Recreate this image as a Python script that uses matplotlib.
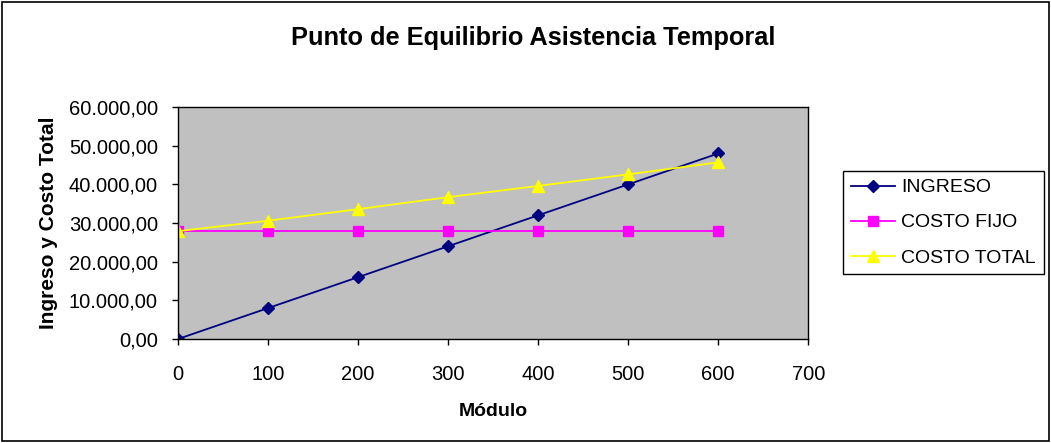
import matplotlib
matplotlib.use("Agg")
import matplotlib.pyplot as plt
from matplotlib.patches import Rectangle
from matplotlib.ticker import FuncFormatter

plt.rcParams["font.family"] = ["Liberation Sans", "DejaVu Sans"]

modulos = [0, 100, 200, 300, 400, 500, 600]
ingreso = [0, 8000, 16000, 24000, 32000, 40000, 48000]
costo_fijo = [28000, 28000, 28000, 28000, 28000, 28000, 28000]
costo_total = [27900, 30600, 33600, 36700, 39600, 42600, 45700]


def fmt_es(v, _pos=None):
    # 12345.6 -> "12.345,60"
    s = f"{v:,.2f}"
    return s.replace(",", "X").replace(".", ",").replace("X", ".")


fig = plt.figure(figsize=(10.51, 4.43), dpi=100)
ax = fig.add_axes([0.1694, 0.2348, 0.5996, 0.5234])
ax.set_facecolor("#C0C0C0")

ax.plot(modulos, ingreso, color="#000080", lw=1.3, marker="D", ms=6,
        label="INGRESO")
ax.plot(modulos, costo_fijo, color="#FF00FF", lw=1.3, marker="s", ms=6.5,
        label="COSTO FIJO")
ax.plot(modulos, costo_total, color="#FFFF00", lw=1.3, marker="^", ms=8,
        label="COSTO TOTAL")

ax.set_xlim(0, 700)
ax.set_ylim(0, 60000)
ax.set_xticks(range(0, 701, 100))
ax.set_yticks(range(0, 60001, 10000))
ax.yaxis.set_major_formatter(FuncFormatter(fmt_es))
ax.tick_params(axis="both", labelsize=14.5, length=4.5, width=1,
               color="black", direction="out")
ax.tick_params(axis="y", pad=10)
ax.tick_params(axis="x", pad=14)
for sp in ax.spines.values():
    sp.set_color("black")
    sp.set_linewidth(1)

ax.set_xlabel("Módulo", fontsize=14, fontweight="bold", labelpad=14)
ax.set_ylabel("Ingreso y Costo Total", fontsize=15, fontweight="bold",
              labelpad=8)
fig.text(0.507, 0.914, "Punto de Equilibrio Asistencia Temporal",
         ha="center", va="center", fontsize=18.3, fontweight="bold")

leg = ax.legend(loc="upper left", bbox_to_anchor=(0.802, 0.614),
                bbox_transform=fig.transFigure, borderaxespad=0,
                fontsize=14, frameon=True, fancybox=False,
                edgecolor="black", framealpha=1, handlelength=2.3,
                borderpad=0.4, labelspacing=0.9, handletextpad=0.3)
leg.get_frame().set_linewidth(1)

fig.patches.append(Rectangle((0.002, 0.004), 0.996, 0.992,
                             transform=fig.transFigure, fill=False,
                             edgecolor="black", lw=1.2))

fig.savefig("out.png", dpi=100, facecolor="white")
